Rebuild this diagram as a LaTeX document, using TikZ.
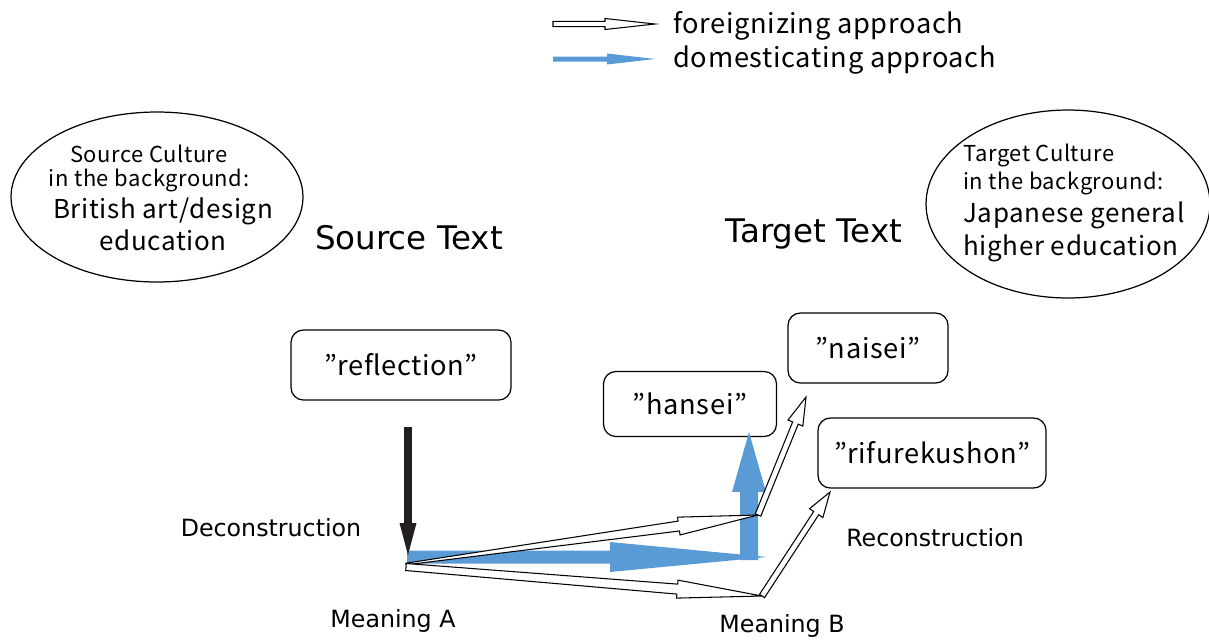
\documentclass[tikz,border=0pt]{standalone}
\usepackage{fontspec}
\setmainfont[LetterSpace=2.5]{Noto Sans CJK JP}
\newfontfamily\widefont{DejaVu Sans}
\usetikzlibrary{calc,positioning,shapes.geometric}

\definecolor{domblue}{HTML}{5B9BD5}
\definecolor{decblack}{HTML}{231F20}
\def\pxu{0.569pt}

% block arrow: style, from, to, tail/shaft/head half widths, head length (px)
\newcommand\blockarrow[7]{%
  \path let \p1=($(#3)-(#2)$), \n1={atan2(\y1,\x1)}, \n2={veclen(\x1,\y1)} in
    [#1] ($(#2)+(\n1+90:#4*\pxu)$)
    -- ($(#2)+(\n1:\n2-#7*\pxu)+(\n1+90:#5*\pxu)$)
    -- ($(#2)+(\n1:\n2-#7*\pxu)+(\n1+90:#6*\pxu)$)
    -- (#3)
    -- ($(#2)+(\n1:\n2-#7*\pxu)+(\n1-90:#6*\pxu)$)
    -- ($(#2)+(\n1:\n2-#7*\pxu)+(\n1-90:#5*\pxu)$)
    -- ($(#2)+(\n1-90:#4*\pxu)$) -- cycle;}

\tikzset{
  foreign/.style={draw=black, fill=white, line width=0.6pt, line join=miter},
  domestic/.style={fill=domblue},
  decon/.style={fill=decblack},
  culture/.style={draw, ellipse, line width=0.7pt, inner sep=0pt},
  term/.style={draw, rounded corners=7pt, line width=0.7pt, font=\fontsize{15.5}{18}\selectfont},
  stage/.style={font=\widefont\fontsize{13.5}{16}\selectfont},
  heading/.style={font=\widefont\fontsize{18.5}{22}\selectfont},
  legendtext/.style={anchor=west, inner sep=0pt, font=\fontsize{15.5}{18}\selectfont}
}

\begin{document}
\begin{tikzpicture}[x=0.02cm, y=-0.02cm]
	\useasboundingbox (0,0) rectangle (1209,640);

	% legend
	\coordinate (legF0) at (553,24);
	\coordinate (legF1) at (655,24);
	\coordinate (legD0) at (553,59);
	\coordinate (legD1) at (655,59);
	\blockarrow{foreign}{legF0}{legF1}{2.7}{2.7}{5.5}{50}
	\blockarrow{domestic}{legD0}{legD1}{2.5}{2.5}{5.5}{48}
	\node[legendtext] (legF) at (673,26) {foreignizing approach};
	\node[legendtext] (legD) at (673,60) {domesticating approach};

	% cultures
	\node[culture, minimum width=5.84cm, minimum height=3.4cm] (srcCult) at (157,197) {};
	\node[align=center, inner sep=0pt] (srcCultText) at (149,198)
		{\fontsize{12.5}{16}\selectfont Source Culture\\[1.5pt]
		 \fontsize{12.5}{16}\selectfont in the background:\\[2.5pt]
		 \fontsize{14.8}{17}\selectfont \hspace*{16pt}British art/design\\[1.5pt]
		 \fontsize{14.8}{17}\selectfont \hspace*{16pt}education};
	\node[culture, minimum width=5.68cm, minimum height=3.76cm] (tgtCult) at (1068,204) {};
	\node[align=left, inner sep=0pt, anchor=west] (tgtCultText) at (963,203)
		{\fontsize{12.5}{16}\selectfont Target Culture\\[2pt]
		 \fontsize{12.5}{16}\selectfont in the background:\\[2.5pt]
		 \fontsize{14.8}{17}\selectfont Japanese general\\[2.5pt]
		 \fontsize{14.8}{17}\selectfont higher education};

	\node[heading] (srcText) at (409,238) {Source Text};
	\node[heading] (tgtText) at (814,234) {Target Text};

	% terms
	\node[term, minimum width=4.4cm, minimum height=1.4cm] (reflection) at (401,365) {”reflection”};
	\node[term, minimum width=3.2cm, minimum height=1.4cm] (naisei) at (868,348) {”naisei”};
	\node[term, minimum width=3.46cm, minimum height=1.3cm] (hansei) at (690,404) {”hansei”};
	\node[term, minimum width=4.56cm, minimum height=1.4cm] (rifurekushon) at (932,453) {”rifurekushon”};

	% arrow points
	\coordinate (decTop) at (408,427);
	\coordinate (decTip) at (408,555);
	\coordinate (mA) at (407,557);
	\coordinate (blueTip) at (767,557);
	\coordinate (upFoot) at (749,560);
	\coordinate (upTip) at (749,432);
	\coordinate (forU) at (406,564);
	\coordinate (bendU) at (758,515);
	\coordinate (forL) at (406,567);
	\coordinate (bendL) at (762,596);
	\coordinate (tipN) at (806,397);
	\coordinate (tipR) at (830,492);

	% domesticating: meaning A straight to hansei
	\blockarrow{domestic}{mA}{blueTip}{6.5}{6.5}{15}{157}
	\blockarrow{domestic}{upFoot}{upTip}{9}{9}{17}{60}

	% deconstruction
	\blockarrow{decon}{decTop}{decTip}{3.8}{3.8}{8.5}{32}

	% foreignizing: via meaning B
	\blockarrow{foreign}{forU}{bendU}{0.8}{5}{9}{80}
	\blockarrow{foreign}{bendU}{tipN}{3}{3}{8}{28}
	\blockarrow{foreign}{forL}{bendL}{3.5}{5}{9}{85}
	\blockarrow{foreign}{bendL}{tipR}{3}{3}{8}{25}

	% stage labels
	\node[stage] (decon) at (271,528) {Deconstruction};
	\node[stage] (recon) at (935,538) {Reconstruction};
	\node[stage] (meanA) at (393,621) {Meaning A};
	\node[stage] (meanB) at (782,626) {Meaning B};
\end{tikzpicture}
\end{document}
